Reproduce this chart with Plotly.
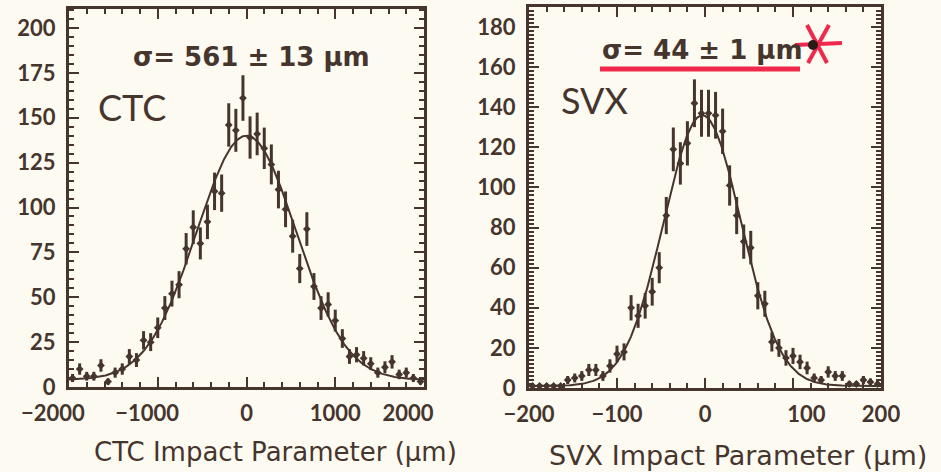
import numpy as np
import plotly.graph_objects as go

# ---- histogram data: bin centres and counts ----
ctc_bins = list(range(-1960, 1961, 80))          # µm, 80 µm bins
ctc_counts = [5, 10, 6, 6, 12, 3, 8, 10, 17, 15,
              26, 25, 33, 44, 52, 57, 77, 89, 80, 92,
              109, 108, 146, 143, 161, 139, 141, 133, 124, 110,
              99, 84, 66, 88, 56, 44, 46, 37, 27, 17,
              18, 16, 13, 8, 11, 14, 7, 8, 5, 3]

svx_bins = list(range(-196, 197, 8))              # µm, 8 µm bins
svx_counts = [1, 1, 1, 1, 1, 4, 5, 6, 9, 9,
              6, 11, 17, 18, 40, 36, 41, 48, 60, 86,
              119, 112, 122, 142, 137, 137, 136, 128, 101, 86,
              73, 70, 46, 42, 23, 20, 15, 16, 13, 10,
              5, 4, 8, 6, 6, 2, 2, 4, 3, 2]

# ---- Gaussian fit parameters ----
ctc_sigma, ctc_mean, ctc_amp, ctc_bkg = 561.0, 0.0, 136.0, 4.0
svx_sigma, svx_mean, svx_amp, svx_bkg = 44.0, -3.0, 135.0, 1.0

# ---- tick values and labels ----
NB = "\u00a0"
ctc_xticks = [-2000, -1000, 0, 1000, 2000]
ctc_xlabels = ["−2000" + NB * 6, "−1000" + NB * 4, "0", "1000", "2000" + NB * 6]
ctc_yticks = [0, 25, 50, 75, 100, 125, 150, 175, 200]
svx_xticks = [-200, -100, 0, 100, 200]
svx_xlabels = ["−200", "−100", "0", NB * 5 + "100", "200"]
svx_yticks = [0, 20, 40, 60, 80, 100, 120, 140, 160, 180]

INK = "#46352d"
RED = "#f0284c"
BG = "#fcfaf1"
W, H = 941, 472


def px(x):
    return x / W


def py(y):
    return 1 - y / H


def gauss(x, amp, mean, sigma, bkg):
    return amp * np.exp(-0.5 * ((x - mean) / sigma) ** 2) + bkg


fig = go.Figure()

# data points with Poisson error bars
for bins, counts, xa, ya in [(ctc_bins, ctc_counts, "x", "y"),
                             (svx_bins, svx_counts, "x2", "y2")]:
    fig.add_trace(go.Scatter(
        x=bins, y=counts, xaxis=xa, yaxis=ya, mode="markers",
        marker=dict(symbol="diamond", size=6, color=INK),
        error_y=dict(type="data", array=np.sqrt(counts), visible=True,
                     thickness=3, width=0, color=INK),
        hoverinfo="skip", showlegend=False))

# fitted Gaussians
xc = np.linspace(-2000, 2000, 401)
fig.add_trace(go.Scatter(x=xc, y=gauss(xc, ctc_amp, ctc_mean, ctc_sigma, ctc_bkg),
                         xaxis="x", yaxis="y", mode="lines",
                         line=dict(color=INK, width=2), hoverinfo="skip",
                         showlegend=False))
xs = np.linspace(-200, 200, 401)
fig.add_trace(go.Scatter(x=xs, y=gauss(xs, svx_amp, svx_mean, svx_sigma, svx_bkg),
                         xaxis="x2", yaxis="y2", mode="lines",
                         line=dict(color=INK, width=2), hoverinfo="skip",
                         showlegend=False))

tickfont = dict(family="Lato", size=22, color=INK, weight=700)


def axis_style(domain, rng, ticks, labels, minor, anchor, standoff):
    return dict(domain=domain, range=rng, tickvals=ticks, ticktext=labels,
                tickangle=0,
                ticks="inside", ticklen=10, tickwidth=2, tickcolor=INK,
                minor=dict(dtick=minor, tick0=0, ticks="inside", ticklen=5,
                           tickwidth=2, tickcolor=INK),
                showline=True, linewidth=3, linecolor=INK, mirror="allticks",
                showgrid=False, zeroline=False, tickfont=tickfont,
                ticklabelstandoff=standoff, automargin=False, anchor=anchor)


xa1 = axis_style([px(69), px(424)], [-2000, 2000], ctc_xticks, ctc_xlabels, 200, "y", 5)
ya1 = axis_style([py(387), py(9)], [0, 210.6], ctc_yticks,
                 [str(v) for v in ctc_yticks], 5, "x", 6)
xa2 = axis_style([px(529), px(881)], [-200, 200], svx_xticks, svx_xlabels, 20, "y2", 5)
ya2 = axis_style([py(388), py(7)], [0, 190], svx_yticks,
                 [str(v) for v in svx_yticks], 2, "x2", 6)

annotations = [
    dict(text="σ= 561 ± 13 μm", x=px(252), y=py(57),
         font=dict(family="DejaVu Sans", size=26, color=INK, weight=700)),
    dict(text="CTC", x=px(132), y=py(107),
         font=dict(family="Lato", size=36, color=INK, weight=400)),
    dict(text="σ= 44 ± 1 μm", x=px(702), y=py(50),
         font=dict(family="DejaVu Sans", size=26, color=INK, weight=700)),
    dict(text="SVX", x=px(594), y=py(100),
         font=dict(family="Lato", size=36, color=INK, weight=400)),
    dict(text="CTC Impact Parameter (μm)", x=px(275), y=py(452),
         font=dict(family="DejaVu Sans", size=26, color=INK)),
    dict(text="SVX Impact Parameter (μm)", x=px(738), y=py(455),
         font=dict(family="DejaVu Sans", size=27, color=INK)),
]
for a in annotations:
    a.update(xref="paper", yref="paper", showarrow=False,
             xanchor="center", yanchor="middle")

# red pen marks: underline and asterisk
shapes = [
    dict(type="line", x0=px(600), y0=py(69), x1=px(800), y1=py(69),
         line=dict(color=RED, width=5)),
    dict(type="line", x0=px(795), y0=py(45), x1=px(842), y1=py(43),
         line=dict(color=RED, width=4)),
    dict(type="line", x0=px(807), y0=py(25), x1=px(827), y1=py(63),
         line=dict(color=RED, width=4)),
    dict(type="line", x0=px(829), y0=py(25), x1=px(808), y1=py(63),
         line=dict(color=RED, width=4)),
    dict(type="circle", x0=px(808), y0=py(50), x1=px(818), y1=py(40),
         fillcolor="#2a1a18", line=dict(width=0)),
]
for s in shapes:
    s.update(xref="paper", yref="paper", layer="above")

fig.update_layout(
    width=W, height=H, margin=dict(l=0, r=0, t=0, b=0, autoexpand=False),
    paper_bgcolor=BG, plot_bgcolor=BG,
    xaxis=xa1, yaxis=ya1, xaxis2=xa2, yaxis2=ya2,
    annotations=annotations, shapes=shapes, showlegend=False,
)

fig.write_html("out.html")
